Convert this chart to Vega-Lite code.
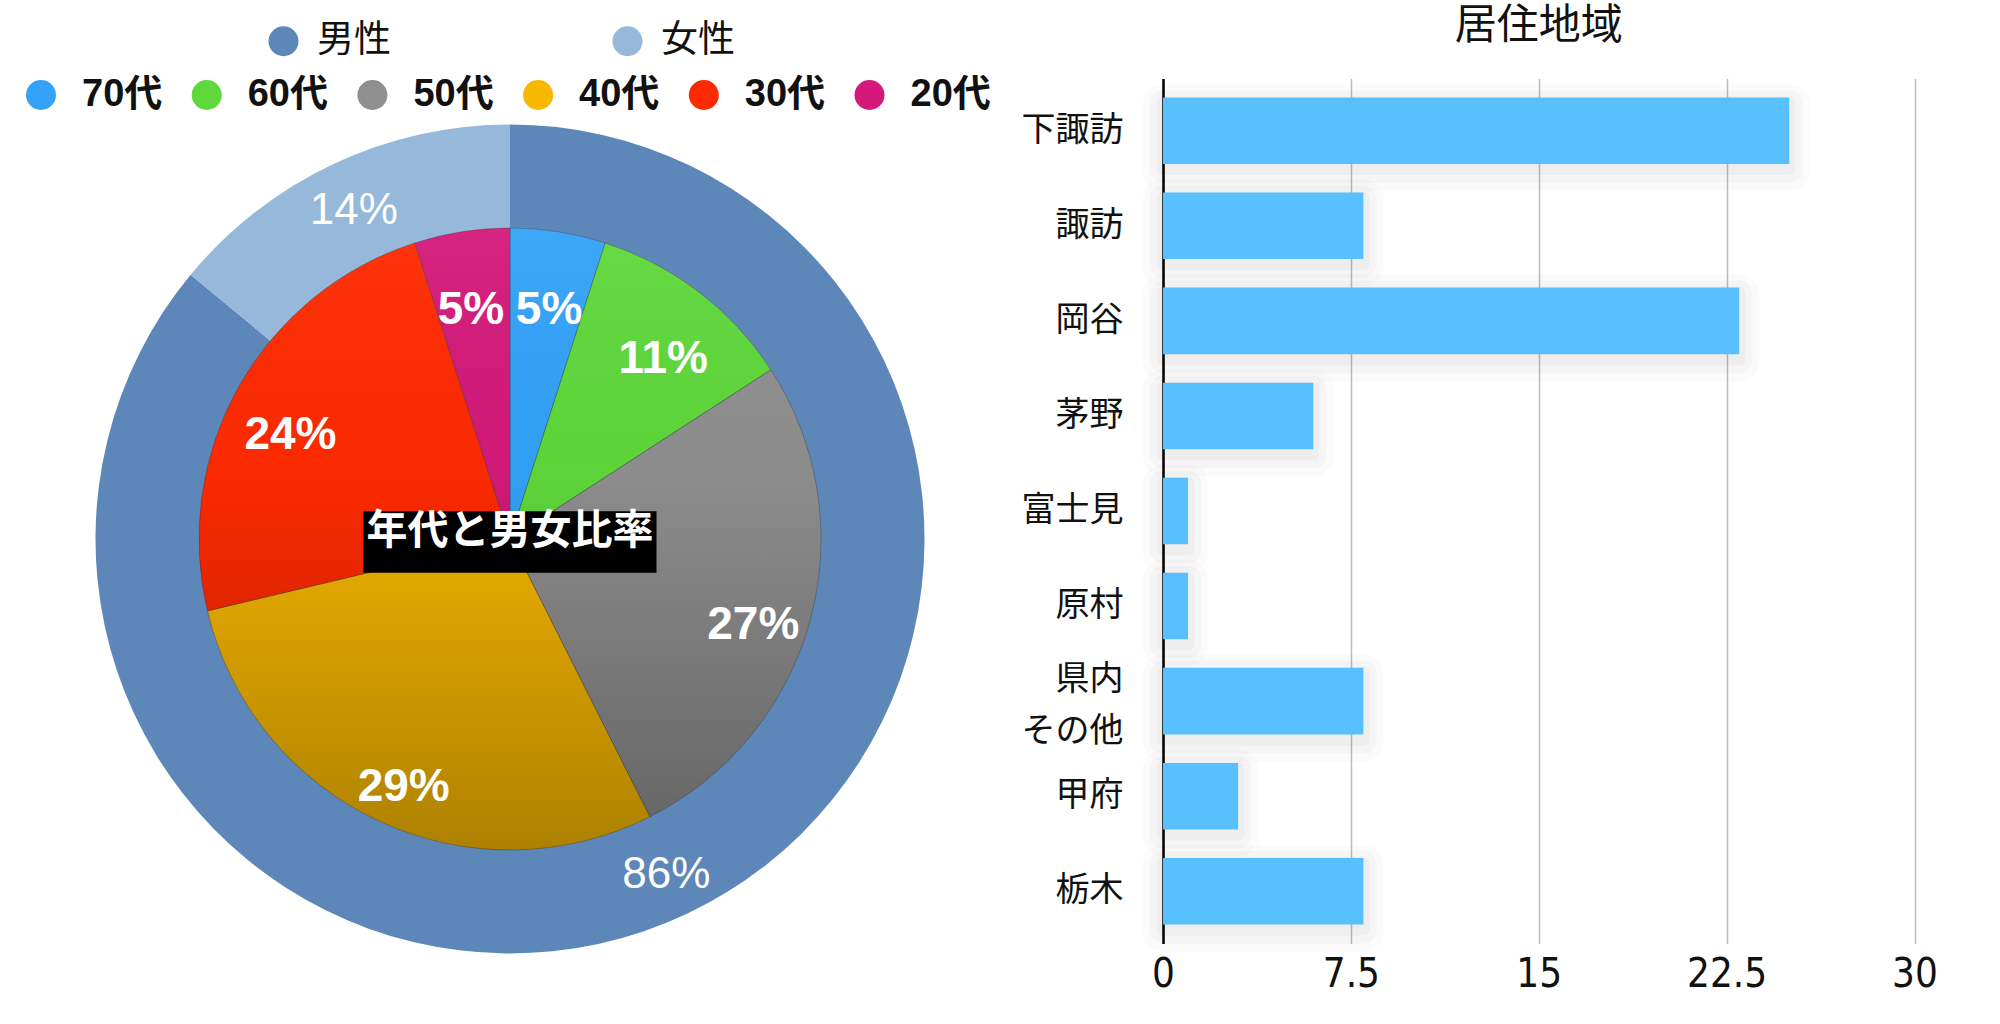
{
  "$schema": "https://vega.github.io/schema/vega-lite/v6.json",
  "background": "white",
  "padding": {"left": 0, "top": 4.5, "right": 0, "bottom": 0},
  "bounds": "flush",
  "spacing": 143,
  "config": {"view": {"stroke": null}},
  "datasets": {
    "gender": [
      {"gender": "男性", "value": 86, "label": "86%", "i": 1},
      {"gender": "女性", "value": 14, "label": "14%", "i": 2}
    ],
    "age": [
      {"age": "70代", "value": 5, "label": "5%", "i": 1},
      {"age": "60代", "value": 11, "label": "11%", "i": 2},
      {"age": "50代", "value": 27, "label": "27%", "i": 3},
      {"age": "40代", "value": 29, "label": "29%", "i": 4},
      {"age": "30代", "value": 24, "label": "24%", "i": 5},
      {"age": "20代", "value": 5, "label": "5%", "i": 6}
    ],
    "region": [
      {"region": "下諏訪", "count": 25},
      {"region": "諏訪", "count": 8},
      {"region": "岡谷", "count": 23},
      {"region": "茅野", "count": 6},
      {"region": "富士見", "count": 1},
      {"region": "原村", "count": 1},
      {"region": "県内/その他", "count": 8},
      {"region": "甲府", "count": 3},
      {"region": "栃木", "count": 8}
    ]
  },
  "hconcat": [
    {
      "width": 1020,
      "height": 921,
      "layer": [
        {
          "data": {"name": "gender"},
          "mark": {"type": "arc", "outerRadius": 414.5, "innerRadius": 0},
          "encoding": {
            "theta": {"field": "value", "type": "quantitative", "stack": true},
            "order": {"field": "i", "type": "quantitative"},
            "color": {
              "field": "gender", "type": "nominal",
              "scale": {"domain": ["男性", "女性"], "range": ["#5E87B9", "#96B8DA"]},
              "legend": {
                "orient": "none", "legendX": 265, "legendY": -56, "direction": "horizontal",
                "title": null, "symbolType": "circle", "symbolSize": 900, "symbolStrokeWidth": 0, "symbolOpacity": 1,
                "labelFontSize": 37, "labelFont": "Noto Sans CJK JP", "labelColor": "#111", "labelOffset": 15,
                "columnPadding": 218, "labelLimit": 300
              }
            }
          }
        },
        {
          "data": {"name": "gender"},
          "mark": {"type": "text", "radius": 367, "fontSize": 44, "font": "Liberation Sans", "color": "white", "baseline": "middle", "align": "center", "dy": 4},
          "encoding": {
            "theta": {"field": "value", "type": "quantitative", "stack": true},
            "order": {"field": "i", "type": "quantitative"},
            "detail": {"field": "gender", "type": "nominal"},
            "text": {"field": "label", "type": "nominal"}
          }
        },
        {
          "data": {"name": "age"},
          "mark": {"type": "arc", "outerRadius": 311, "innerRadius": 0, "stroke": "#333", "strokeWidth": 1, "strokeOpacity": 0.35},
          "encoding": {
            "theta": {"field": "value", "type": "quantitative", "stack": true},
            "order": {"field": "i", "type": "quantitative"},
            "color": {
              "field": "age", "type": "nominal",
              "scale": {"domain": ["70代", "60代", "50代", "40代", "30代", "20代"], "range": ["#33A2F8", "#5FD83B", "#8F8F8F", "#F8B800", "#FF2A00", "#D4197A"]},
              "legend": {
                "orient": "none", "legendX": 22, "legendY": -2.5, "direction": "horizontal",
                "title": null, "symbolType": "circle", "symbolSize": 900, "symbolStrokeWidth": 0, "symbolOpacity": 1,
                "labelFontSize": 38, "labelFont": "Liberation Sans, Noto Sans CJK JP", "labelFontWeight": "bold", "labelColor": "#111", "labelOffset": 22,
                "columnPadding": 24.7, "labelLimit": 300
              }
            }
          }
        },
        {
          "data": {"values": [{"v": 1}]},
          "mark": {"type": "arc", "outerRadius": 311, "innerRadius": 0,
            "fill": {"gradient": "linear", "x1": 0, "y1": 0, "x2": 0, "y2": 1,
              "stops": [{"offset": 0, "color": "rgba(255,255,255,0.05)"}, {"offset": 0.4, "color": "rgba(0,0,0,0.02)"}, {"offset": 1, "color": "rgba(0,0,0,0.3)"}]}},
          "encoding": {"theta": {"field": "v", "type": "quantitative"}}
        },
        {
          "data": {"name": "age"},
          "mark": {"type": "text", "radius": 252, "fontSize": 46, "font": "Liberation Sans", "fontWeight": "bold", "color": "white", "baseline": "middle", "align": "center", "dy": 20},
          "encoding": {
            "theta": {"field": "value", "type": "quantitative", "stack": true},
            "order": {"field": "i", "type": "quantitative"},
            "detail": {"field": "age", "type": "nominal"},
            "text": {"field": "label", "type": "nominal"}
          }
        },
        {
          "data": {"values": [{"t": "年代と男女比率"}]},
          "mark": {"type": "point", "shape": "M-1,-0.19H1V0.23H-1Z", "filled": true, "color": "black", "opacity": 1, "size": 85849, "strokeWidth": 0},
          "encoding": {}
        },
        {
          "data": {"values": [{"t": "年代と男女比率"}]},
          "mark": {"type": "text", "fontSize": 41, "font": "Noto Sans CJK JP", "fontWeight": "bold", "color": "white", "baseline": "middle", "align": "center", "dy": -7},
          "encoding": {"text": {"field": "t", "type": "nominal"}}
        }
      ],
      "resolve": {"scale": {"theta": "independent", "color": "independent"}, "legend": {"color": "independent"}}
    },
    {
      "width": 751.5,
      "height": 865,
      "title": {"text": "居住地域", "fontSize": 42, "font": "Noto Sans CJK JP", "fontWeight": "normal", "color": "#111", "offset": 30.5, "anchor": "middle"},
      "data": {"name": "region"},
      "encoding": {
        "y": {
          "field": "region", "type": "nominal", "sort": null,
          "scale": {"paddingInner": 0.3, "paddingOuter": 0.2},
          "axis": {
            "title": null, "ticks": false, "grid": false, "domain": true, "domainColor": "#000", "domainWidth": 2.5,
            "labelFontSize": 34, "labelFont": "Noto Sans CJK JP", "labelColor": "#111", "labelPadding": 40,
            "labelExpr": "split(datum.label, '/')", "labelLineHeight": 52, "labelBaseline": "middle",
            "labelOffset": {"condition": {"test": "indexof(datum.value, '/') >= 0", "value": -21}, "value": 0}
          }
        },
        "x": {
          "field": "count", "type": "quantitative",
          "scale": {"domain": [0, 30], "nice": false},
          "axis": {
            "title": null, "values": [0, 7.5, 15, 22.5, 30], "format": ".1~f", "ticks": false, "domain": false,
            "grid": true, "gridColor": "#BDBDBD", "gridWidth": 1.5,
            "labelFontSize": 40, "labelFont": "Liberation Sans Narrow, DejaVu Sans Condensed, Liberation Sans", "labelColor": "#111", "labelPadding": 11,
            "labelFlush": false
          }
        }
      },
      "layer": [
        {"mark": {"type": "bar", "color": "#000", "opacity": 0.012, "stroke": "#000", "strokeWidth": 40, "strokeJoin": "round", "yOffset": 7}},
        {"mark": {"type": "bar", "color": "#000", "opacity": 0.018, "stroke": "#000", "strokeWidth": 26, "strokeJoin": "round", "yOffset": 6}},
        {"mark": {"type": "bar", "color": "#000", "opacity": 0.025, "stroke": "#000", "strokeWidth": 12, "strokeJoin": "round", "yOffset": 5}},
        {"mark": {"type": "bar", "color": "#58C0FE"}}
      ]
    }
  ]
}
